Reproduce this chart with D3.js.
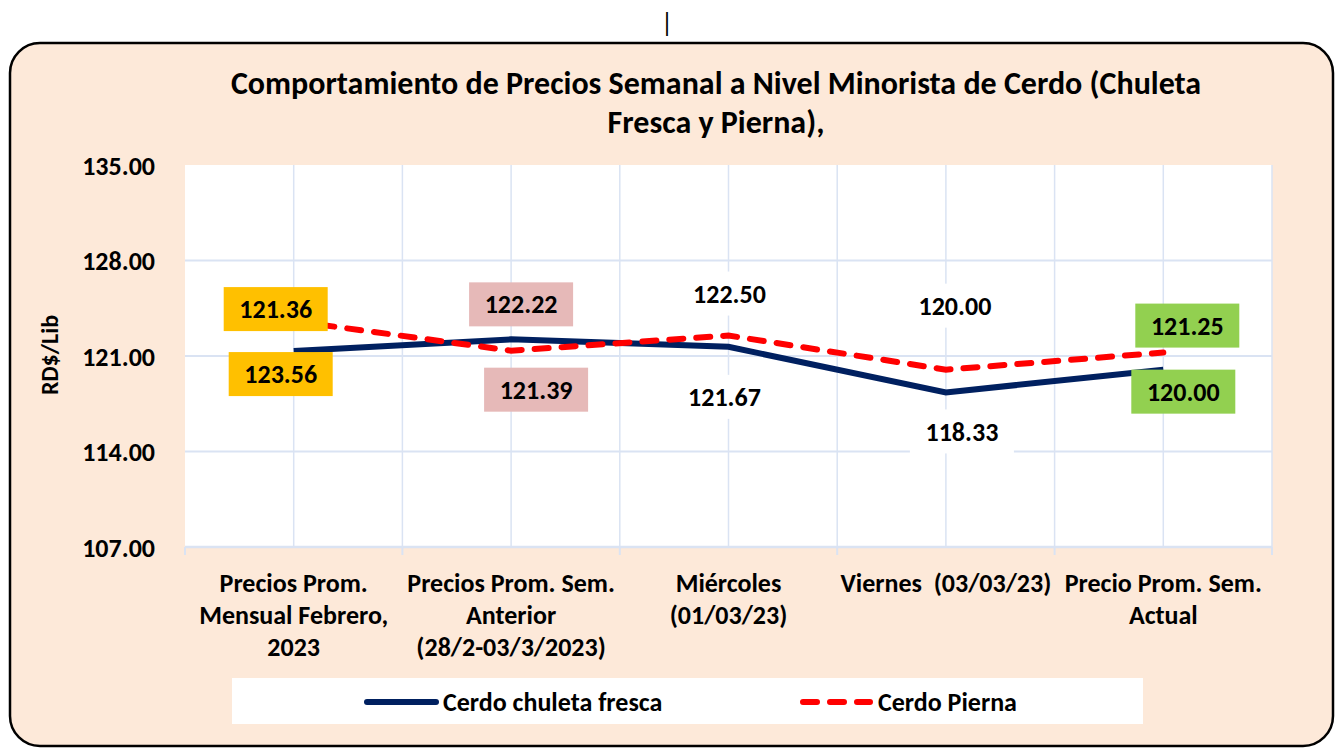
<!DOCTYPE html>
<html>
<head>
<meta charset="utf-8">
<script src="https://cdn.jsdelivr.net/npm/d3@7"></script>
<style>
  body { margin: 0; background: #fff; }
  svg text { font-family: Carlito, Lato, "Open Sans", sans-serif; font-weight: bold; fill: #000; white-space: pre; }
</style>
</head>
<body>
<svg></svg>
<script>
// datos del gráfico
const categorias = [
  ["Precios Prom.", "Mensual Febrero,", "2023"],
  ["Precios Prom. Sem.", "Anterior", "(28/2-03/3/2023)"],
  ["Miércoles", "(01/03/23)"],
  ["Viernes  (03/03/23)"],
  ["Precio Prom. Sem.", "Actual"]
];
const chuleta = [121.36, 122.22, 121.67, 118.33, 120.00];
const pierna = [123.56, 121.39, 122.50, 120.00, 121.25];
const yTicks = [107, 114, 121, 128, 135];
const titulo = ["Comportamiento de Precios Semanal a Nivel Minorista de Cerdo (Chuleta", "Fresca y Pierna),"];
const nombres = ["Cerdo chuleta fresca", "Cerdo Pierna"];

// colores de las etiquetas por categoría (como en el original)
const colorEtiqueta = ["#ffc000", "#e6b9b8", "#ffffff", "#ffffff", "#92d050"];
// desplazamientos de las etiquetas respecto al punto (px)
const dyChuleta = [-42, -35, 50, 39, 22];
const dxChuleta = [-18, 10, -4, 16, 20];
const dyPierna = [53, 39, -42, -64, -27];
const dxPierna = [-13, 25, 1, 9, 24];

const width = 1340, height = 749;
const svg = d3.select("svg").attr("width", width).attr("height", height);

// marco exterior
svg.append("rect")
  .attr("x", 10).attr("y", 43)
  .attr("width", 1323).attr("height", 703)
  .attr("rx", 30).attr("ry", 30)
  .attr("fill", "#fde9d9")
  .attr("stroke", "#000").attr("stroke-width", 2.5);

svg.append("text").attr("x", 667).attr("y", 32)
  .attr("text-anchor", "middle").style("font-weight", "normal")
  .style("font-size", "26px").text("|");

// título
svg.append("g").selectAll("text").data(titulo).enter().append("text")
  .attr("x", 716).attr("y", (d, i) => 94 + i * 39)
  .attr("text-anchor", "middle")
  .style("font-size", "32px")
  .text(d => d);

const pLeft = 185, pRight = 1272, pTop = 165, pBottom = 547;

const x = d3.scaleBand().domain(d3.range(categorias.length)).range([pLeft, pRight]);
const y = d3.scaleLinear().domain([107, 135]).range([pBottom, pTop]);
const cx = i => x(i) + x.bandwidth() / 2;

svg.append("rect").attr("x", pLeft).attr("y", pTop)
  .attr("width", pRight - pLeft).attr("height", pBottom - pTop).attr("fill", "#fff");

// rejilla
const gridColor = "#dae3f3";
const vx = [];
d3.range(categorias.length).forEach(i => { vx.push(x(i)); vx.push(cx(i)); });
vx.push(pRight);
svg.append("g").selectAll("line").data(vx.slice(1)).enter().append("line")
  .attr("x1", d => d).attr("x2", d => d)
  .attr("y1", pTop).attr("y2", pBottom)
  .attr("stroke", gridColor).attr("stroke-width", 1.5);
svg.append("g").selectAll("line").data(yTicks.filter(t => t > 107 && t < 135)).enter().append("line")
  .attr("x1", pLeft).attr("x2", pRight)
  .attr("y1", d => y(d)).attr("y2", d => y(d))
  .attr("stroke", gridColor).attr("stroke-width", 2);

// eje x
svg.append("line").attr("x1", pLeft).attr("x2", pRight)
  .attr("y1", pBottom).attr("y2", pBottom)
  .attr("stroke", gridColor).attr("stroke-width", 2.5);
svg.append("g").selectAll("line").data(d3.range(categorias.length + 1)).enter().append("line")
  .attr("x1", i => i < categorias.length ? x(i) : pRight)
  .attr("x2", i => i < categorias.length ? x(i) : pRight)
  .attr("y1", pBottom).attr("y2", pBottom + 8)
  .attr("stroke", gridColor).attr("stroke-width", 2);

// eje y
const yAxis = svg.append("g")
  .attr("transform", `translate(${pLeft - 30},0)`)
  .call(d3.axisLeft(y).tickValues(yTicks).tickFormat(d3.format(".2f")).tickSize(0));
yAxis.select(".domain").remove();
yAxis.selectAll("text").style("font-size", "26px").attr("dy", "0.35em").attr("x", 0);

svg.append("text")
  .attr("transform", "translate(58,355) rotate(-90)")
  .attr("text-anchor", "middle")
  .style("font-size", "24px")
  .text("RD$/Lib");

// etiquetas de categorías
const xl = svg.append("g").selectAll("text").data(categorias).enter().append("text")
  .attr("x", (d, i) => cx(i))
  .attr("text-anchor", "middle")
  .style("font-size", "26px");
xl.selectAll("tspan").data(d => d).enter().append("tspan")
  .attr("x", function () { return d3.select(this.parentNode).attr("x"); })
  .attr("y", (d, j) => 592 + j * 32)
  .text(d => d);

// líneas
const line = d3.line().x((d, i) => cx(i)).y(d => y(d));
svg.append("path").datum(chuleta).attr("d", line)
  .attr("fill", "none").attr("stroke", "#002060").attr("stroke-width", 6);
svg.append("path").datum(pierna).attr("d", line)
  .attr("fill", "none").attr("stroke", "#ff0000").attr("stroke-width", 6)
  .attr("stroke-dasharray", "14,13").attr("stroke-linecap", "round");

// etiquetas de valores
function etiquetas(values, dx, dy) {
  const g = svg.append("g").selectAll("g").data(values).enter().append("g")
    .attr("transform", (d, i) => `translate(${cx(i) + dx[i]},${y(d) + dy[i]})`);
  g.append("rect")
    .attr("x", -52).attr("y", -22).attr("width", 104).attr("height", 44)
    .attr("fill", (d, i) => colorEtiqueta[i]);
  g.append("text")
    .attr("text-anchor", "middle").attr("dy", "0.35em")
    .style("font-size", "26px")
    .text(d => d3.format(".2f")(d));
}
etiquetas(chuleta, dxChuleta, dyChuleta);
etiquetas(pierna, dxPierna, dyPierna);

// leyenda
svg.append("rect").attr("x", 232).attr("y", 678)
  .attr("width", 911).attr("height", 46).attr("fill", "#fff");
const leg = svg.append("g");
leg.append("line").attr("x1", 367).attr("x2", 436).attr("y1", 702).attr("y2", 702)
  .attr("stroke", "#002060").attr("stroke-width", 6).attr("stroke-linecap", "round");
leg.append("text").attr("x", 443).attr("y", 711).style("font-size", "26px").text(nombres[0]);
leg.append("line").attr("x1", 803).attr("x2", 870).attr("y1", 702).attr("y2", 702)
  .attr("stroke", "#ff0000").attr("stroke-width", 6)
  .attr("stroke-dasharray", "14,13").attr("stroke-linecap", "round");
leg.append("text").attr("x", 878).attr("y", 711).style("font-size", "26px").text(nombres[1]);
</script>
</body>
</html>
